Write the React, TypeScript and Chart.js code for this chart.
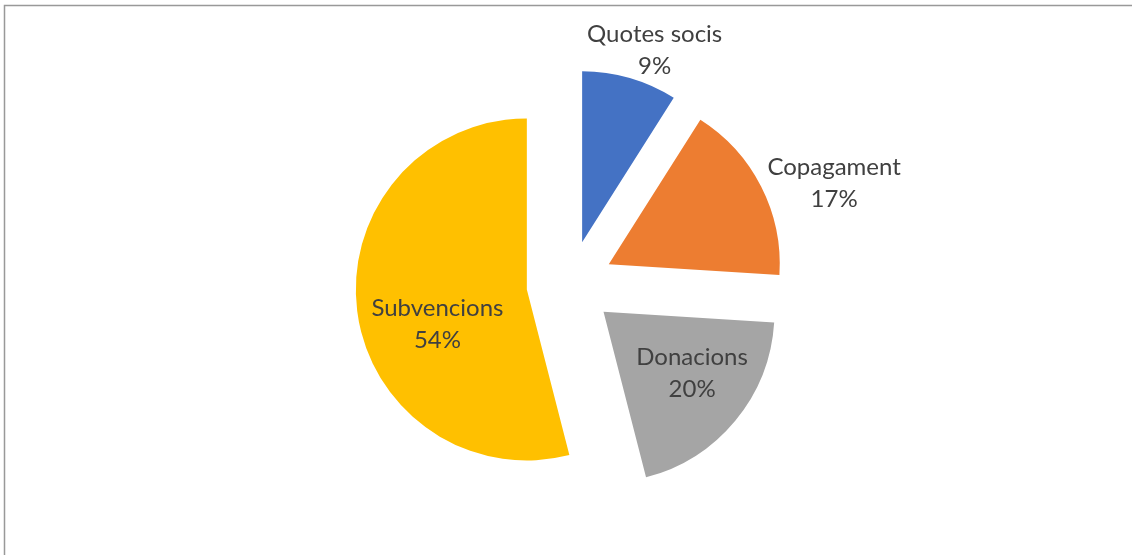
import React, { useEffect, useRef } from "react";
import { Chart, registerables } from "chart.js";

Chart.register(...registerables);

const categories = ["Quotes socis", "Copagament", "Donacions", "Subvencions"];
const values = [9, 17, 20, 54];
const colors = ["#4472C4", "#ED7D31", "#A5A5A5", "#FFC000"];
// label placement per slice: radial fraction of radius, angle tweak (degrees)
const labelRadial = [1.2, 1.4, 0.63, 0.56];
const labelAngle = [4.5, 7.3, -4.9, -13.8];

const FONT = "Lato, 'Open Sans', sans-serif";
const FONT_SIZE = 24;
const LINE_H = 32;
const EXPLODE = 43.5; // pixel shift of every slice along its mid angle
const RADIUS = 171;

const explodePlugin = {
  id: "explodeAndLabels",
  beforeDraw(chart: any) {
    const ctx = chart.ctx;
    ctx.save();
    ctx.strokeStyle = "#999999";
    ctx.lineWidth = 1.5;
    ctx.strokeRect(4.5, 5.5, chart.width + 20, chart.height + 20);
    ctx.restore();
  },
  beforeDatasetsDraw(chart: any) {
    const meta = chart.getDatasetMeta(0);
    const ca = chart.chartArea;
    const cx = (ca.left + ca.right) / 2;
    const cy = (ca.top + ca.bottom) / 2;
    meta.data.forEach((arc: any) => {
      const mid = (arc.startAngle + arc.endAngle) / 2;
      arc.x = cx + Math.cos(mid) * EXPLODE;
      arc.y = cy + Math.sin(mid) * EXPLODE;
    });
  },
  afterDatasetsDraw(chart: any) {
    const ctx = chart.ctx;
    const meta = chart.getDatasetMeta(0);
    const data = chart.data.datasets[0].data as number[];
    const total = data.reduce((a, b) => a + b, 0);
    ctx.save();
    ctx.font = `${FONT_SIZE}px ${FONT}`;
    ctx.fillStyle = "#404040";
    ctx.textAlign = "center";
    ctx.textBaseline = "middle";
    meta.data.forEach((arc: any, i: number) => {
      const mid = (arc.startAngle + arc.endAngle) / 2;
      const a = mid + (labelAngle[i] * Math.PI) / 180;
      const r = arc.outerRadius * labelRadial[i];
      const lx = arc.x + Math.cos(a) * r;
      const ly = arc.y + Math.sin(a) * r;
      const pct = Math.round((data[i] / total) * 100) + "%";
      ctx.fillText(chart.data.labels[i], lx, ly - LINE_H / 2);
      ctx.fillText(pct, lx, ly + LINE_H / 2);
    });
    ctx.restore();
  },
};

export default function App() {
  const ref = useRef<HTMLCanvasElement>(null);
  useEffect(() => {
    if (!ref.current) return;
    const chart = new Chart(ref.current, {
      type: "pie",
      data: {
        labels: categories,
        datasets: [
          {
            data: values,
            backgroundColor: colors,
            borderWidth: 0,
            offset: 0,
          },
        ],
      },
      options: {
        animation: false,
        responsive: true,
        maintainAspectRatio: false,
        events: [],
        radius: RADIUS,
        layout: { padding: { left: 8, top: 13, right: 0, bottom: 0 } },
        plugins: {
          legend: { display: false },
          tooltip: { enabled: false },
          title: { display: false },
        },
      } as any,
      plugins: [explodePlugin],
    });
    return () => chart.destroy();
  }, []);
  return (
    <div style={{ position: "absolute", left: 0, top: 0, width: 1132, height: 555, background: "#fff" }}>
      <canvas ref={ref} />
    </div>
  );
}
